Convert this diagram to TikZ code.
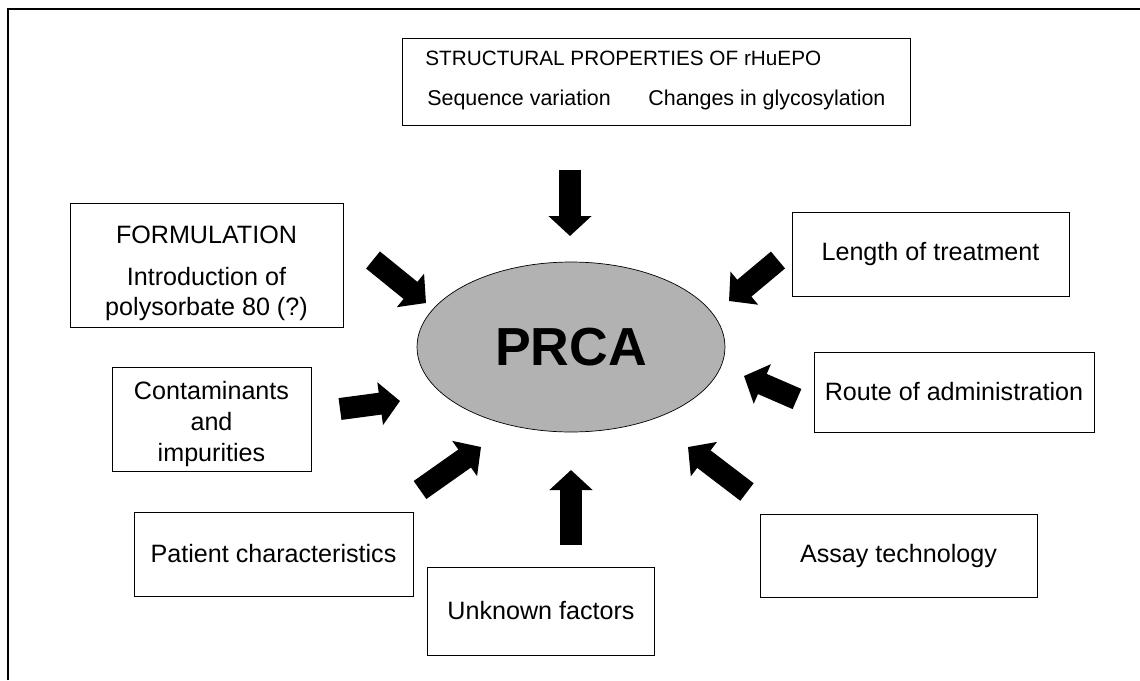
\documentclass[tikz,border=0pt]{standalone}
\usepackage{fontspec}
\setmainfont{Liberation Sans}
\usetikzlibrary{arrows.meta,shapes.geometric,positioning}
\newcommand{\bodyfont}{\fontsize{14.3}{17.5}\selectfont}
\newcommand{\headfont}{\fontsize{11.8}{14}\selectfont}
\newcommand{\subfont}{\fontsize{12.2}{15}\selectfont}
\tikzset{
  factor/.style={draw,thin,align=center,inner sep=0pt,font=\bodyfont},
  fat/.style={line width=0.44cm,-{Triangle[length=0.4cm,width=0.84cm]}},
  frame/.style={semithick}
}

\begin{document}
\begin{tikzpicture}[x=0.02cm,y=-0.02cm,line join=miter]
  \useasboundingbox (0,0) rectangle (1140,680);

  % frame (only top and left edges show)
  \draw[frame] (8,680) -- (8,9) -- (1140,9);

  % centre
  \node[ellipse,draw,fill=gray!60,minimum width=6.16cm,minimum height=3.4cm,
        font=\fontsize{30.5}{30}\selectfont\bfseries] (prca) at (571,347) {PRCA};

  % factors
  \node[factor,minimum width=10.16cm,minimum height=1.74cm] (struct) at (656,82) {};
  \node[font=\headfont,anchor=west,inner sep=0pt] (structT) at (425,58)
    {STRUCTURAL PROPERTIES OF rHuEPO};
  \node[font=\subfont,anchor=west,inner sep=0pt] (seq) at (427,100)
    {Sequence variation};
  \node[font=\subfont,anchor=west,inner sep=0pt] (glyc) at (648,100)
    {Changes in glycosylation};

  \node[factor,minimum width=5.46cm,minimum height=2.48cm] (form) at (206.5,265)
    {\rule{0pt}{20pt}FORMULATION\\[6pt]Introduction of\\polysorbate 80 (?)};
  \node[factor,minimum width=5.54cm,minimum height=1.68cm] (length) at (930.5,254)
    {Length of treatment};
  \node[factor,minimum width=3.98cm,minimum height=2.08cm] (cont) at (211.5,419)
    {\rule{0pt}{16pt}Contaminants\\and\\impurities};
  \node[factor,minimum width=5.6cm,minimum height=1.6cm] (route) at (954,392)
    {Route of administration};
  \node[factor,minimum width=5.58cm,minimum height=1.68cm] (patient) at (273.5,554)
    {Patient characteristics};
  \node[factor,minimum width=5.54cm,minimum height=1.66cm] (assay) at (898.5,555.5)
    {Assay technology};
  \node[factor,minimum width=4.54cm,minimum height=1.76cm] (unknown) at (541,611)
    {Unknown factors};

  % arrow ends
  \coordinate (structA) at (570,170);  \coordinate (structB) at (570,236);
  \coordinate (unknownA) at (571,545); \coordinate (unknownB) at (571,470);
  \coordinate (contA) at (340,409);    \coordinate (contB) at (400,401);
  \coordinate (patientA) at (420,490); \coordinate (patientB) at (481,447);
  \coordinate (assayA) at (747,492);   \coordinate (assayB) at (688,447);
  \coordinate (routeA) at (797,399);   \coordinate (routeB) at (744,376);
  \coordinate (lengthA) at (778,260);  \coordinate (lengthB) at (729,301);
  \coordinate (formA) at (373,260);    \coordinate (formB) at (426,303);

  % arrows
  \foreach \f in {struct,unknown,cont,patient,assay,route,length,form}
    \draw[fat] (\f A) -- (\f B);
\end{tikzpicture}
\end{document}
